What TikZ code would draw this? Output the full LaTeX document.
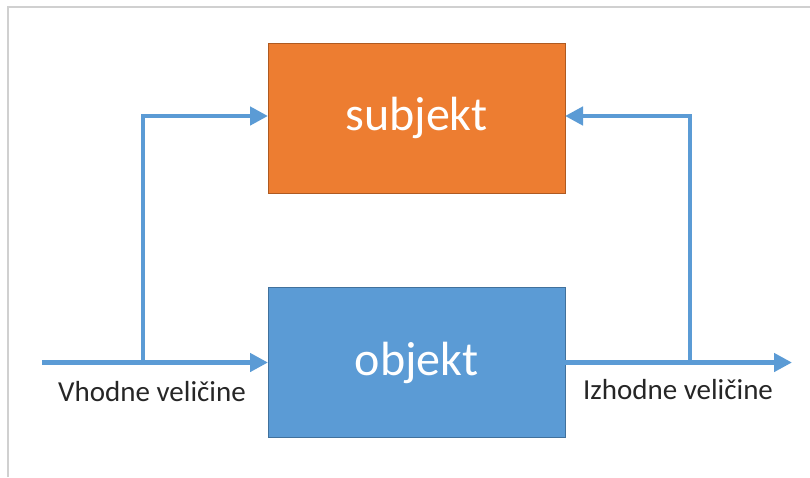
\documentclass[tikz,border=0pt]{standalone}
\usepackage{fontspec}
\setmainfont{Carlito}
\usetikzlibrary{arrows.meta}
\definecolor{cblue}{RGB}{91,155,213}
\definecolor{cbluedk}{RGB}{65,113,156}
\definecolor{corange}{RGB}{237,125,49}
\definecolor{corangedk}{RGB}{174,90,33}
\definecolor{cgray}{RGB}{208,208,208}
\definecolor{ctext}{RGB}{38,38,38}

\begin{document}
\begin{tikzpicture}[y=-1pt, x=1pt, inner sep=0pt, outer sep=0pt,
  block/.style={draw, line width=0.8pt, minimum width=297pt, minimum height=150pt,
    text=white, font=\fontsize{48}{52}\selectfont},
  flow/.style={draw=cblue, line width=4.5pt, -{Triangle[length=18pt,width=18pt]}},
  feed/.style={draw=cblue, line width=4.5pt},
  lbl/.style={font=\fontsize{29}{32}\selectfont, text=ctext}]
\useasboundingbox (0,0) rectangle (810,477);
\draw[cgray, line width=1.5pt] (8,477) -- (8,7) -- (810,7);
% blocks
\node[block, fill=corange, draw=corangedk] (subjekt) at (416.5,118) {subjekt};
\node[block, fill=cblue, draw=cbluedk] (objekt) at (416.5,362.5) {objekt};
% input side
\coordinate (in) at (42,362.5);
\coordinate (inbranch) at (143,362.5);
\coordinate (intop) at (143,116);
\draw[feed] (in) -- (inbranch);
\draw[flow] (inbranch) -- (objekt.west);
\draw[flow, line join=miter] (inbranch) -- (intop) -- (subjekt.west |- intop);
% output side
\coordinate (outbranch) at (690,362.5);
\coordinate (outtop) at (690,116);
\coordinate (out) at (792,362.5);
\draw[flow] (objekt.east) -- (out);
\draw[flow, line join=miter] (outbranch) -- (outtop) -- (subjekt.east |- outtop);
% labels
\node[lbl] (vhod) at (152,392) {Vhodne veličine};
\node[lbl] (izhod) at (678,390) {Izhodne veličine};
\end{tikzpicture}
\end{document}
